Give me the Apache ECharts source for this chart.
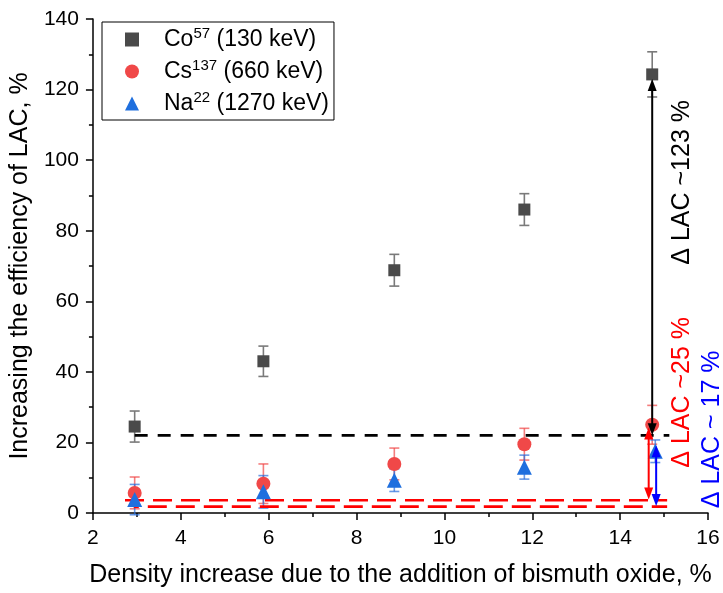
<!DOCTYPE html>
<html><head><meta charset="utf-8">
<script src="https://cdn.jsdelivr.net/npm/echarts@6/dist/echarts.min.js"></script>
<style>html,body{margin:0;padding:0;background:#fff}#c{width:723px;height:593px}</style>
</head><body><div id="c"></div>
<script>
// ---- data ----
const xVals = [2.95, 5.88, 8.86, 11.82, 14.73];
const coVals = [24.5, 43.0, 68.8, 86.0, 124.3];
const coErr = [4.4, 4.3, 4.5, 4.5, 6.4];
const csVals = [5.7, 8.3, 13.9, 19.5, 25.0];
const csErr = [4.5, 5.6, 4.5, 4.5, 5.5];
const naX = [2.95, 5.88, 8.86, 11.82, 14.8];
const naVals = [3.8, 6.0, 9.3, 13.0, 17.5];
const naErr = [4.3, 4.6, 3.2, 3.4, 3.2];
const blackDash = [[2.95, 22.0], [15.12, 22.0]];
const redDashHi = [[2.73, 3.6], [15.07, 3.6]];
const redDashLo = [[2.93, 1.8], [15.07, 1.8]];
const arrowBlack = [[14.73, 22.0], [14.73, 123.0]];
const arrowRed = [[14.65, 3.8], [14.65, 24.2]];
const arrowBlue = [[14.82, 2.0], [14.82, 19.2]];
const xTicks = {min: 2, max: 16, interval: 2};
const yTicks = {min: 0, max: 140, interval: 20};
const names = ['Co57 (130 keV)', 'Cs137 (660 keV)', 'Na22 (1270 keV)'];
const legendRich = {'Co57 (130 keV)': 'Co{sup|57} (130 keV)', 'Cs137 (660 keV)': 'Cs{sup|137} (660 keV)', 'Na22 (1270 keV)': 'Na{sup|22} (1270 keV)'};
const annotations = [
  {text: 'Δ LAC ~123 %', color: '#000000', x: 15.41, y: 93.7},
  {text: 'Δ LAC ~25 %', color: '#ff0000', x: 15.41, y: 34.2},
  {text: 'Δ LAC ~ 17 %', color: '#0000ff', x: 16.09, y: 23.7}
];

const FONT = 'Liberation Sans, Arial, sans-serif';
const chart = echarts.init(document.getElementById('c'), null, {renderer: 'canvas'});

function errData(xs, vs, es) { return xs.map((x, i) => [x, vs[i] - es[i], vs[i] + es[i]]); }
function errSeries(data, color) {
  return {
    type: 'custom', silent: true, z: 2,
    data: data,
    renderItem: function (params, api) {
      const p1 = api.coord([api.value(0), api.value(1)]);
      const p2 = api.coord([api.value(0), api.value(2)]);
      const w = 5;
      const st = {stroke: color, lineWidth: 1.6, fill: null};
      return {type: 'group', children: [
        {type: 'line', shape: {x1: p1[0], y1: p1[1], x2: p2[0], y2: p2[1]}, style: st},
        {type: 'line', shape: {x1: p1[0] - w, y1: p1[1], x2: p1[0] + w, y2: p1[1]}, style: st},
        {type: 'line', shape: {x1: p2[0] - w, y1: p2[1], x2: p2[0] + w, y2: p2[1]}, style: st}
      ]};
    }
  };
}
function dashSeries(pts, color, dash, dashOffset) {
  return {type: 'line', data: pts, symbol: 'none', silent: true, z: 3,
    lineStyle: {color: color, width: 2.6, type: dash, dashOffset: dashOffset || 0}};
}
function arrowSeries(pts, color) {
  return {
    type: 'custom', silent: true, z: 6, data: [[pts[0][0], pts[0][1], pts[1][1]]],
    renderItem: function (params, api) {
      const a = api.coord([api.value(0), api.value(1)]);
      const b = api.coord([api.value(0), api.value(2)]);
      const L = 12, W = 4.5;
      return {type: 'group', children: [
        {type: 'line', shape: {x1: a[0], y1: a[1] - L + 2, x2: b[0], y2: b[1] + L - 2}, style: {stroke: color, lineWidth: 2}},
        {type: 'polygon', shape: {points: [[b[0], b[1]], [b[0] - W, b[1] + L], [b[0] + W, b[1] + L]]}, style: {fill: color}},
        {type: 'polygon', shape: {points: [[a[0], a[1]], [a[0] - W, a[1] - L], [a[0] + W, a[1] - L]]}, style: {fill: color}}
      ]};
    }
  };
}

const option = {
  animation: false,
  backgroundColor: '#ffffff',
  grid: {left: 92, right: 15, top: 19, bottom: 76, containLabel: false},
  legend: {
    orient: 'vertical', left: 102, top: 22,
    data: [{name: names[0], icon: 'rect'}, {name: names[1], icon: 'circle'}, {name: names[2], icon: 'triangle'}],
    borderColor: '#000', borderWidth: 1, padding: [4, 5, 3, 23],
    itemWidth: 14, itemHeight: 14, itemGap: 5,
    formatter: function (n) { return legendRich[n]; },
    textStyle: {fontFamily: FONT, fontSize: 23, lineHeight: 27, color: '#000', padding: [0, 0, 0, 20],
      rich: {sup: {fontSize: 15, fontFamily: FONT, color: '#000', lineHeight: 15, padding: [0, 0, 11, 0]}}}
  },
  xAxis: {
    type: 'value', min: xTicks.min, max: xTicks.max, interval: xTicks.interval,
    name: 'Density increase due to the addition of bismuth oxide, %',
    nameLocation: 'middle', nameGap: 50,
    nameTextStyle: {fontFamily: FONT, fontSize: 25, color: '#000'},
    axisLine: {onZero: false, lineStyle: {color: '#000', width: 1.5}},
    axisTick: {show: true, inside: false, length: 7, lineStyle: {color: '#000', width: 1.5}},
    minorTick: {show: true, splitNumber: 2, length: 4, lineStyle: {color: '#000', width: 1.5}},
    axisLabel: {fontFamily: FONT, fontSize: 21, color: '#000', margin: 15},
    splitLine: {show: false}
  },
  yAxis: {
    type: 'value', min: yTicks.min, max: yTicks.max, interval: yTicks.interval,
    name: 'Increasing the efficiency of LAC, %',
    nameLocation: 'middle', nameGap: 57,
    nameTextStyle: {fontFamily: FONT, fontSize: 25, color: '#000'},
    axisLine: {show: true, onZero: false, lineStyle: {color: '#000', width: 1.5}},
    axisTick: {show: true, inside: false, length: 7, lineStyle: {color: '#000', width: 1.5}},
    minorTick: {show: true, splitNumber: 2, length: 4, lineStyle: {color: '#000', width: 1.5}},
    axisLabel: {fontFamily: FONT, fontSize: 21, color: '#000', margin: 14},
    splitLine: {show: false}
  },
  series: [
    dashSeries(blackDash, '#000000', [13, 10], 0),
    dashSeries(redDashHi, '#ff0000', [19, 9], 0),
    dashSeries(redDashLo, '#ff0000', [19, 9], 14),
    errSeries(errData(xVals, coVals, coErr), '#7a7a7a'),
    errSeries(errData(xVals, csVals, csErr), 'rgba(240,70,70,0.7)'),
    errSeries(errData(naX, naVals, naErr), 'rgba(40,110,220,0.7)'),
    {name: names[0], type: 'scatter', symbol: 'rect', symbolSize: 12, z: 4,
      itemStyle: {color: '#4a4a4a', opacity: 1}, data: xVals.map((x, i) => [x, coVals[i]])},
    {name: names[1], type: 'scatter', symbol: 'circle', symbolSize: 14, z: 4,
      itemStyle: {color: '#f04848', opacity: 1}, data: xVals.map((x, i) => [x, csVals[i]])},
    {name: names[2], type: 'scatter', symbol: 'triangle', symbolSize: 15, z: 5,
      itemStyle: {color: '#1f6fde', opacity: 1}, data: naX.map((x, i) => [x, naVals[i]])},
    arrowSeries(arrowBlack, '#000000'),
    arrowSeries(arrowRed, '#ff0000'),
    arrowSeries(arrowBlue, '#0000ff')
  ]
};
chart.setOption(option);
const g = annotations.map(a => {
  const p = chart.convertToPixel({gridIndex: 0}, [a.x, a.y]);
  return {type: 'text', x: p[0], y: p[1], rotation: Math.PI / 2, z: 10,
    style: {text: a.text, fill: a.color, font: '25px ' + FONT, align: 'center', verticalAlign: 'middle'}};
});
chart.setOption({graphic: g});
</script></body></html>
